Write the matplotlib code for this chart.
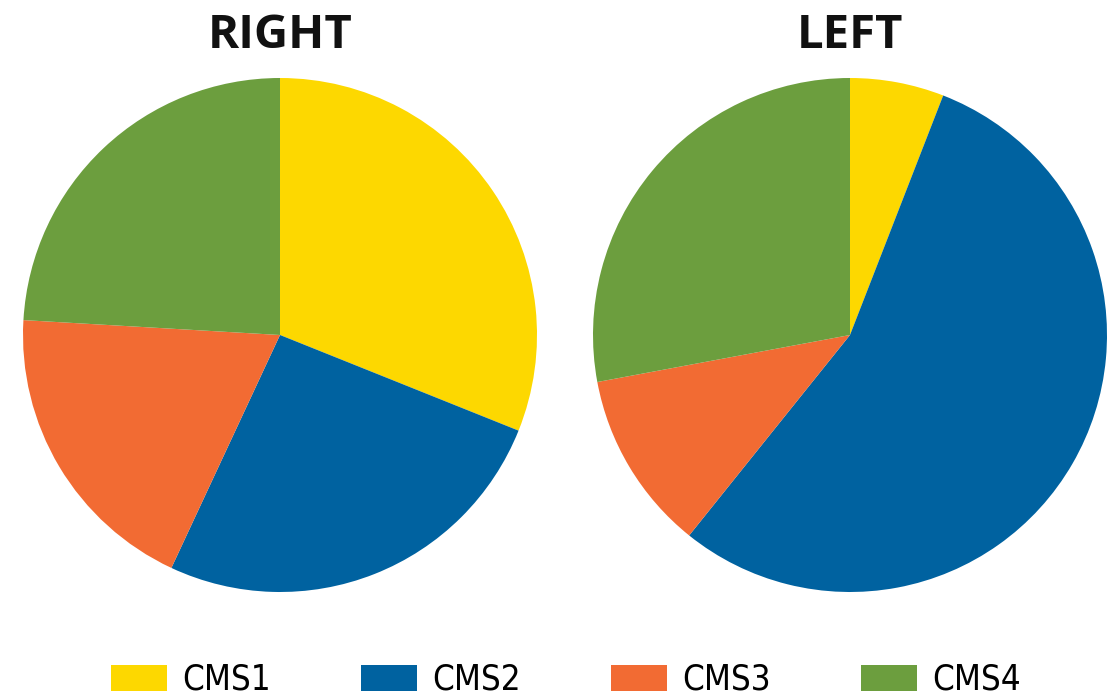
import matplotlib
matplotlib.use("Agg")
import matplotlib.pyplot as plt
from matplotlib.patches import Patch

labels = ["CMS1", "CMS2", "CMS3", "CMS4"]
right_vals = [31.1, 25.9, 19.0, 24.1]
left_vals = [5.9, 54.8, 11.3, 27.9]
colors = ["#FDD800", "#0062A0", "#F26B33", "#6C9E3E"]

W, H = 1119, 697
fig = plt.figure(figsize=(W / 100, H / 100), dpi=100)
fig.patch.set_facecolor("white")

R = 257
for cx, vals, title in [(280, right_vals, "RIGHT"), (850, left_vals, "LEFT")]:
    ax = fig.add_axes([(cx - R) / W, (H - 335 - R) / H, 2 * R / W, 2 * R / H])
    ax.pie(vals, colors=colors, startangle=90, counterclock=False,
           wedgeprops=dict(linewidth=0))
    ax.set_xlim(-1, 1)
    ax.set_ylim(-1, 1)
    ax.axis("off")
    fig.text(cx / W, 1 - 35 / H, title, ha="center", va="center",
             fontsize=34, fontweight="bold", family="Open Sans", color="#111111")

handles = [Patch(facecolor=c, edgecolor="none") for c in colors]
fig.legend(handles, labels, loc="center", bbox_to_anchor=(0.506, 1 - 680 / H),
           ncol=4, frameon=False, handlelength=1.6, handleheight=0.75,
           handletextpad=0.45, columnspacing=2.6,
           prop=dict(family="DejaVu Sans", stretch="condensed", size=25))

fig.savefig("out.png", dpi=100, facecolor="white")
